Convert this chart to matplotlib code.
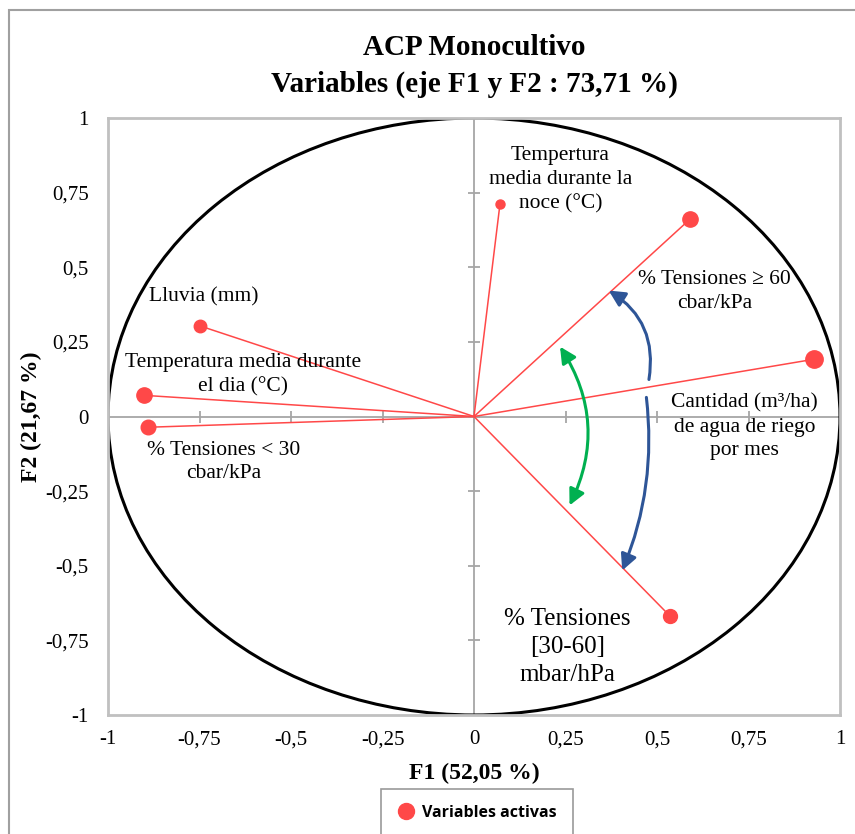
import numpy as np
import matplotlib
matplotlib.use("Agg")
import matplotlib.pyplot as plt
from matplotlib.patches import Ellipse, FancyArrowPatch, Rectangle
from matplotlib.lines import Line2D

# Variables (F1, F2) coordinates
variables = ["Tempertura\nmedia durante la\nnoce (°C)",
             "% Tensiones ≥ 60\ncbar/kPa",
             "Cantidad (m³/ha)\nde agua de riego\npor mes",
             "Lluvia (mm)",
             "Temperatura media durante\nel dia (°C)",
             "% Tensiones < 30\ncbar/kPa",
             "% Tensiones\n[30-60]\nmbar/hPa"]
f1 = [0.071, 0.590, 0.930, -0.750, -0.903, -0.890, 0.535]
f2 = [0.712, 0.661, 0.192, 0.304, 0.071, -0.036, -0.668]
marker_sizes = [6.5, 11, 12.5, 9, 11, 10.5, 10]

ticks = [-1, -0.75, -0.5, -0.25, 0, 0.25, 0.5, 0.75, 1]
tick_labels = ["-1", "-0,75", "-0,5", "-0,25", "0", "0,25", "0,5", "0,75", "1"]

RED = "#FF4848"
BLUE = "#2E5597"
GREEN = "#00B050"

plt.rcParams['font.family'] = ['Liberation Serif', 'DejaVu Serif']

fig = plt.figure(figsize=(8.55, 8.34), dpi=100)
ax = fig.add_axes([108 / 855, 1 - 715 / 834, 732 / 855, 597 / 834])
ax.set_xlim(-1, 1)
ax.set_ylim(-1, 1)

for s in ax.spines.values():
    s.set_color("#C0C0C0")
    s.set_linewidth(2)

ax.set_xticks(ticks)
ax.set_xticklabels(tick_labels, fontsize=15)
ax.set_yticks(ticks)
ax.set_yticklabels(tick_labels, fontsize=15)
ax.tick_params(axis="x", length=0, pad=11)
ax.tick_params(axis="y", length=0, pad=14)

# centre axes with small tick marks
ax.axhline(0, color="#A6A6A6", lw=1.3, zorder=1)
ax.axvline(0, color="#A6A6A6", lw=1.3, zorder=1)
ax.plot(np.zeros(len(ticks)), ticks, ls="none", marker="_", ms=9, mec="#A6A6A6", mew=1.3, zorder=1)
ax.plot(ticks, np.zeros(len(ticks)), ls="none", marker="|", ms=9, mec="#A6A6A6", mew=1.3, zorder=1)

# correlation circle
ax.add_patch(Ellipse((0, 0), 2, 2, fill=False, ec="black", lw=2.2, zorder=2))

# vectors and points
for x, y, ms in zip(f1, f2, marker_sizes):
    ax.plot([0, x], [0, y], color=RED, lw=1.1, zorder=3)
    ax.plot(x, y, "o", color=RED, ms=ms, zorder=4)

# labels
label_pos = [(0.236, 0.793), (0.657, 0.418), (0.739, -0.035), (-0.739, 0.40),
             (-0.632, 0.141), (-0.684, -0.152), (0.255, -0.772)]
label_sizes = [15.5, 15.5, 15.5, 15.5, 15.5, 15.5, 18]
for txt, (lx, ly), fs in zip(variables, label_pos, label_sizes):
    ax.text(lx, ly, txt, ha="center", va="center", fontsize=fs, linespacing=1.33, zorder=5)

# curved arrows
arrows = [((0.478, 0.124), (0.368, 0.422), 0.33, BLUE, "-|>"),
          ((0.471, 0.064), (0.405, -0.516), -0.13, BLUE, "-|>"),
          ((0.261, -0.298), (0.235, 0.234), 0.28, GREEN, "<|-|>")]
for a, b, rad, col, style in arrows:
    ax.add_patch(FancyArrowPatch(a, b, connectionstyle=f"arc3,rad={rad}", arrowstyle=style,
                                 mutation_scale=24, color=col, lw=2.2, shrinkA=0, shrinkB=0, zorder=6))

ax.set_xlabel("F1 (52,05 %)", fontsize=17, fontweight="bold", labelpad=10)
ax.set_ylabel("F2 (21,67 %)", fontsize=17, fontweight="bold", labelpad=2)
ax.set_title("ACP Monocultivo\nVariables (eje F1 y F2 : 73,71 %)", fontsize=21,
             fontweight="bold", linespacing=1.45, pad=19)

handle = Line2D([], [], ls="none", marker="o", color=RED, ms=11.5)
leg = fig.legend([handle], ["Variables activas"], loc="upper center",
                 bbox_to_anchor=(477 / 855, 1 - 789 / 834), frameon=True, fancybox=False,
                 prop={"family": "Open Sans", "weight": "bold", "size": 11.5},
                 handletextpad=0.45, borderpad=1.0, handlelength=1.1, borderaxespad=0)
leg.get_frame().set_edgecolor("#808080")
leg.get_frame().set_linewidth(1.2)

# outer chart frame
fig.patches.append(Rectangle((9 / 855, -0.01), 1.0, 1 - 10 / 834 + 0.01, transform=fig.transFigure,
                             fill=False, ec="#A0A0A0", lw=1.5))

fig.savefig("out.png", dpi=100)
